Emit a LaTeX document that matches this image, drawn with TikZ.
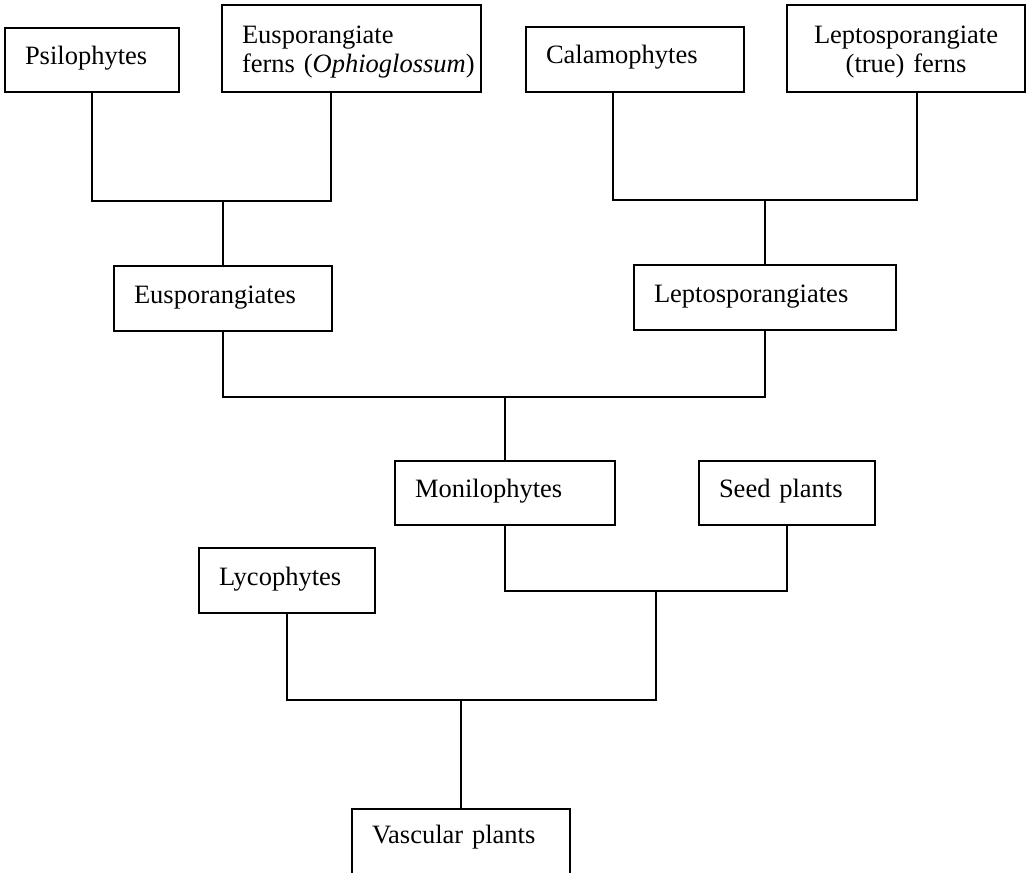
\documentclass[tikz,border=0pt]{standalone}
\usepackage{fontspec}
\setmainfont{Liberation Serif}
\begin{document}
\begin{tikzpicture}[x=1pt,y=-1pt,
  taxon/.style={draw, line width=1.4pt, outer sep=0pt, inner xsep=20pt, inner ysep=0pt,
                anchor=north west, align=left,
                font=\fontsize{26.5}{29}\selectfont},
  oneline/.style={text height=20pt, text depth=11pt},
  link/.style={line width=1.8pt, line join=miter}]
\useasboundingbox (0,0) rectangle (1032,872);

% top row
\node[taxon, oneline, text width=134pt, minimum height=64pt] (psi) at (5,28) {Psilophytes};
\node[taxon, text width=219pt, minimum height=87pt] (efern) at (222,5)
  {\rule{0pt}{24pt}Eusporangiate\\\mbox{ferns (\textit{Ophioglossum})}};
\node[taxon, oneline, text width=178pt, minimum height=65pt] (calam) at (526,27) {Calamophytes};
\node[taxon, text width=198pt, minimum height=87pt, align=center] (lfern) at (787,5)
  {\rule{0pt}{24pt}Leptosporangiate\\(true) ferns};

% second row
\node[taxon, oneline, text width=178pt, minimum height=65pt] (eusp) at (114,266) {Eusporangiates};
\node[taxon, oneline, text width=222pt, minimum height=65pt] (lepto) at (634,265) {Leptosporangiates};

% third row
\node[taxon, oneline, text width=180pt, minimum height=64pt] (moni) at (395,461) {Monilophytes};
\node[taxon, oneline, text width=136pt, minimum height=64pt] (seed) at (699,461) {Seed plants};
\node[taxon, oneline, text width=136pt, minimum height=65pt] (lyco) at (199,548) {Lycophytes};

% root: its lower edge runs past the page edge
\node[taxon, text height=15.5pt, text depth=15.5pt, text width=178pt, minimum height=68pt] (vasc) at (352,809) {Vascular plants};

% branch points
\coordinate (efoot) at ([xshift=-20.5pt]efern.south);
\coordinate (cfoot) at ([xshift=-22pt]calam.south);
\coordinate (lfoot) at ([xshift=11pt]lfern.south);
\coordinate (jtl) at (eusp.north |- 0,201);
\coordinate (jtr) at (lepto.north |- 0,200);
\coordinate (jm)  at (moni.north |- 0,397);
\coordinate (jms) at (656,591);
\coordinate (jlv) at (vasc.north |- 0,700);

% connectors
\draw[link] (psi.south) |- (jtl) -| (efoot);
\draw[link] (jtl) -- (eusp.north);
\draw[link] (cfoot) |- (jtr) -| (lfoot);
\draw[link] (jtr) -- (lepto.north);
\draw[link] (eusp.south) |- (jm) -| (lepto.south);
\draw[link] (jm) -- (moni.north);
\draw[link] (moni.south) |- (jms) -| (seed.south);
\draw[link] (lyco.south) |- (jlv) -| (jms);
\draw[link] (jlv) -- (vasc.north);
\end{tikzpicture}
\end{document}
